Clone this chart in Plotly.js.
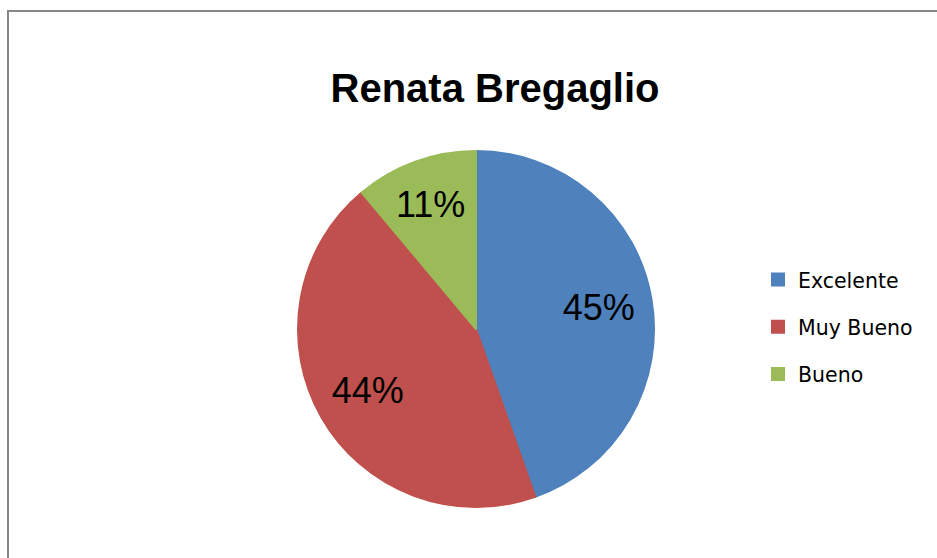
<!DOCTYPE html>
<html>
<head>
<meta charset="utf-8">
<script src="https://cdn.plot.ly/plotly-3.0.1.min.js"></script>
<style>html,body{margin:0;padding:0;background:#fff;}#chart{width:937px;height:558px;}</style>
</head>
<body>
<div id="chart"></div>
<script>
const categories = ["Excelente", "Muy Bueno", "Bueno"];
const values = [44.6, 44.3, 11.1];
const colors = ["#4F81BD", "#C0504D", "#9BBB59"];
const titleText = "Renata Bregaglio";

const legendLabels = categories.map(c => '<span style="font-size:20.5px;baseline-shift:5px">' + c + '</span>');
const pct = "%{percent:.0%}";

const basePie = {
  type: "pie",
  labels: legendLabels,
  values: values,
  sort: false,
  direction: "clockwise",
  rotation: 0,
  marker: {colors: colors, line: {width: 2, color: colors}},
  textinfo: "none",
  texttemplate: ["", "", pct],
  textposition: "inside",
  insidetextorientation: "horizontal",
  textfont: {family: "Liberation Sans", size: 36, color: "#000"},
  hoverinfo: "none"
};

// transparent ring on top, only used to place the two big-slice labels further out
const labelRing = {
  type: "pie",
  labels: legendLabels,
  values: values,
  sort: false,
  direction: "clockwise",
  rotation: 0,
  hole: 0.4,
  showlegend: false,
  marker: {colors: ["rgba(0,0,0,0)", "rgba(0,0,0,0)", "rgba(0,0,0,0)"], line: {width: 0}},
  textinfo: "none",
  texttemplate: [pct, pct, ""],
  textposition: "inside",
  insidetextorientation: "horizontal",
  textfont: {family: "Liberation Sans", size: 36, color: "#000"},
  hoverinfo: "none"
};

const layout = {
  width: 937, height: 558,
  margin: {l: 298, r: 283, t: 151, b: 51},
  paper_bgcolor: "#fff",
  title: {
    text: "<b>" + titleText + "</b>",
    font: {family: "Liberation Sans", size: 40, color: "#000"},
    xref: "container", yref: "container",
    x: 495/937, xanchor: "center",
    y: 1 - 88/558, yanchor: "middle"
  },
  showlegend: true,
  legend: {
    xref: "container", yref: "container",
    x: 758/937, xanchor: "left",
    y: 1 - 251/558, yanchor: "top",
    font: {family: "DejaVu Sans", size: 34, color: "#000"},
    bgcolor: "rgba(0,0,0,0)"
  },
  shapes: [{
    type: "rect", xref: "paper", yref: "paper",
    x0: (8 - 298) / 356, x1: (960 - 298) / 356,
    y0: (507 - 580) / 356, y1: (507 - 11) / 356,
    line: {color: "#878787", width: 2},
    fillcolor: "rgba(0,0,0,0)"
  }]
};

Plotly.newPlot("chart", [basePie, labelRing], layout, {displayModeBar: false, staticPlot: true});
</script>
</body>
</html>
